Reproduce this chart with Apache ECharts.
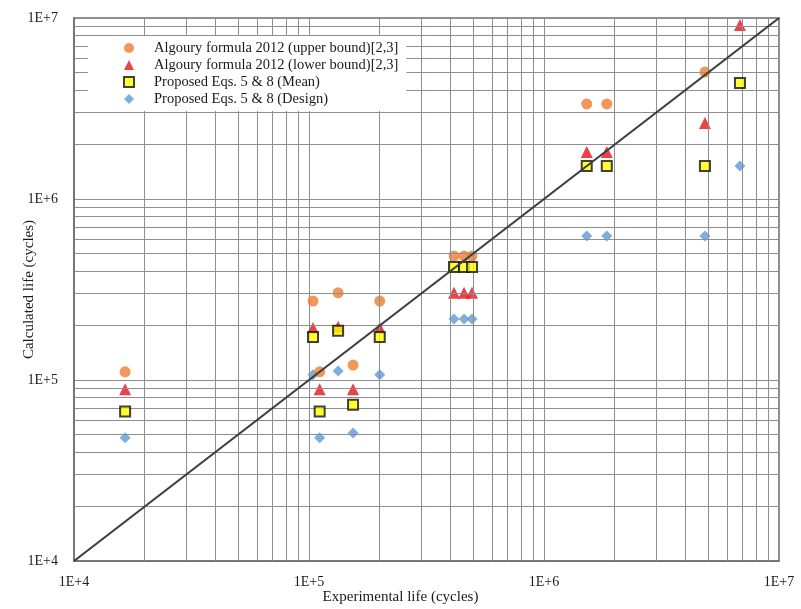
<!DOCTYPE html>
<html>
<head>
<meta charset="utf-8">
<script src="https://cdn.jsdelivr.net/npm/echarts@6/dist/echarts.min.js"></script>
<style>
  html, body { margin: 0; padding: 0; background: #fff; }
  #chart { width: 801px; height: 609px; }
</style>
</head>
<body>
<div id="chart"></div>
<script>
// series names (legend order)
var seriesNames = [
  "Algoury formula 2012 (upper bound)[2,3]",
  "Algoury formula 2012 (lower bound)[2,3]",
  "Proposed Eqs. 5 & 8 (Mean)",
  "Proposed Eqs. 5 & 8 (Design)"
];

// [experimental life, calculated life]
var upperBound = [
  [1.65e4, 1.11e5], [1.04e5, 2.73e5], [1.11e5, 1.11e5], [1.33e5, 3.03e5],
  [1.54e5, 1.21e5], [2.0e5, 2.73e5], [4.14e5, 4.84e5], [4.57e5, 4.84e5],
  [4.94e5, 4.84e5], [1.52e6, 3.35e6], [1.85e6, 3.35e6], [4.84e6, 5.03e6]
];
var lowerBound = [
  [1.65e4, 8.9e4], [1.04e5, 1.94e5], [1.11e5, 8.9e4], [1.33e5, 1.97e5],
  [1.54e5, 8.9e4], [2.0e5, 1.94e5], [4.14e5, 3.03e5], [4.57e5, 3.03e5],
  [4.94e5, 3.03e5], [1.52e6, 1.82e6], [1.85e6, 1.82e6], [4.84e6, 2.63e6],
  [6.82e6, 9.15e6]
];
var meanData = [
  [1.65e4, 6.7e4], [1.04e5, 1.73e5], [1.11e5, 6.7e4], [1.33e5, 1.87e5],
  [1.54e5, 7.3e4], [2.0e5, 1.73e5], [4.14e5, 4.21e5], [4.57e5, 4.21e5],
  [4.94e5, 4.21e5], [1.52e6, 1.52e6], [1.85e6, 1.52e6], [4.84e6, 1.52e6],
  [6.82e6, 4.38e6]
];
var designData = [
  [1.65e4, 4.8e4], [1.04e5, 1.07e5], [1.11e5, 4.8e4], [1.33e5, 1.12e5],
  [1.54e5, 5.1e4], [2.0e5, 1.07e5], [4.14e5, 2.17e5], [4.57e5, 2.17e5],
  [4.94e5, 2.17e5], [1.52e6, 6.25e5], [1.85e6, 6.25e5], [4.84e6, 6.25e5],
  [6.82e6, 1.52e6]
];
// 1:1 line
var equalityLine = [[1e4, 1e4], [1e7, 1e7]];

var tickLabels = ["1E+4", "1E+5", "1E+6", "1E+7"];
var axisMin = 1e4, axisMax = 1e7;

var font = "Liberation Serif";
var gridColor = "#8e8e8e";

// minor log grid lines (2..9 in each decade)
var minorX = [], minorY = [];
for (var d = axisMin; d < axisMax; d *= 10) {
  for (var m = 2; m <= 9; m++) {
    minorX.push({ xAxis: m * d });
    minorY.push({ yAxis: m * d });
  }
}

var labelFmt = function (v) {
  var i = Math.round(Math.log10(v)) - 4;
  return tickLabels[i] || "";
};

var myChart = echarts.init(document.getElementById("chart"), null, { renderer: "canvas" });

var option = {
  animation: false,
  backgroundColor: "#fff",
  grid: {
    left: 74, right: 22, top: 18, bottom: 48,
    outerBoundsMode: "none",
    containLabel: false,
    show: true, borderColor: "#6e6e6e", borderWidth: 1.5
  },
  legend: {
    data: seriesNames,
    orient: "vertical",
    left: 88, top: 36,
    z: 20,
    padding: [4, 8, 4, 35],
    itemGap: 1,
    itemWidth: 10, itemHeight: 10,
    backgroundColor: "#fff",
    textStyle: {
      fontFamily: font, fontSize: 14.5, color: "#1a1a1a",
      lineHeight: 16, padding: [0, 0, 0, 15]
    }
  },
  xAxis: {
    type: "log", logBase: 10, min: axisMin, max: axisMax,
    name: "Experimental life (cycles)",
    nameLocation: "middle", nameGap: 29,
    nameMoveOverlap: false,
    nameTextStyle: { fontFamily: font, fontSize: 15, color: "#1a1a1a", padding: [0, 52, 0, 0] },
    axisLine: { lineStyle: { color: "#6e6e6e", width: 1.5 } },
    axisTick: { show: false },
    axisLabel: { fontFamily: font, fontSize: 14, color: "#1a1a1a", margin: 14, formatter: labelFmt },
    splitLine: { show: true, lineStyle: { color: gridColor, width: 1 } }
  },
  yAxis: {
    type: "log", logBase: 10, min: axisMin, max: axisMax,
    name: "Calculated life (cycles)",
    nameLocation: "middle", nameGap: 37,
    nameMoveOverlap: false,
    nameTextStyle: { fontFamily: font, fontSize: 15, color: "#1a1a1a" },
    axisLine: { lineStyle: { color: "#6e6e6e", width: 1.5 } },
    axisTick: { show: false },
    axisLabel: { fontFamily: font, fontSize: 14, color: "#1a1a1a", margin: 16, formatter: labelFmt },
    splitLine: { show: true, lineStyle: { color: gridColor, width: 1 } }
  },
  series: [
    {
      name: "minor grid",
      type: "scatter",
      data: [],
      silent: true,
      z: 0,
      markLine: {
        silent: true,
        symbol: ["none", "none"],
        label: { show: false },
        lineStyle: { color: gridColor, width: 1, type: "solid" },
        data: minorX.concat(minorY)
      }
    },
    {
      name: seriesNames[0],
      type: "scatter",
      symbol: "circle",
      symbolSize: 11,
      z: 4,
      itemStyle: { color: "#ED7D31" },
      data: upperBound
    },
    {
      name: seriesNames[1],
      type: "scatter",
      symbol: "triangle",
      symbolSize: 12,
      z: 3,
      itemStyle: { color: "#E3141C" },
      data: lowerBound
    },
    {
      name: seriesNames[2],
      type: "scatter",
      symbol: "rect",
      symbolSize: 10,
      z: 5,
      itemStyle: { color: "#FFFF00", borderColor: "#111", borderWidth: 2 },
      data: meanData
    },
    {
      name: seriesNames[3],
      type: "scatter",
      symbol: "diamond",
      symbolSize: 11,
      z: 2,
      itemStyle: { color: "#5B9BD5" },
      data: designData
    },
    {
      name: "1:1",
      type: "line",
      showSymbol: false,
      symbol: "none",
      silent: true,
      z: 6,
      lineStyle: { color: "#3f3f3f", width: 2.2 },
      data: equalityLine
    }
  ]
};

myChart.setOption(option);
window.addEventListener("resize", function () {
  myChart.resize();
});
</script>
</body>
</html>
